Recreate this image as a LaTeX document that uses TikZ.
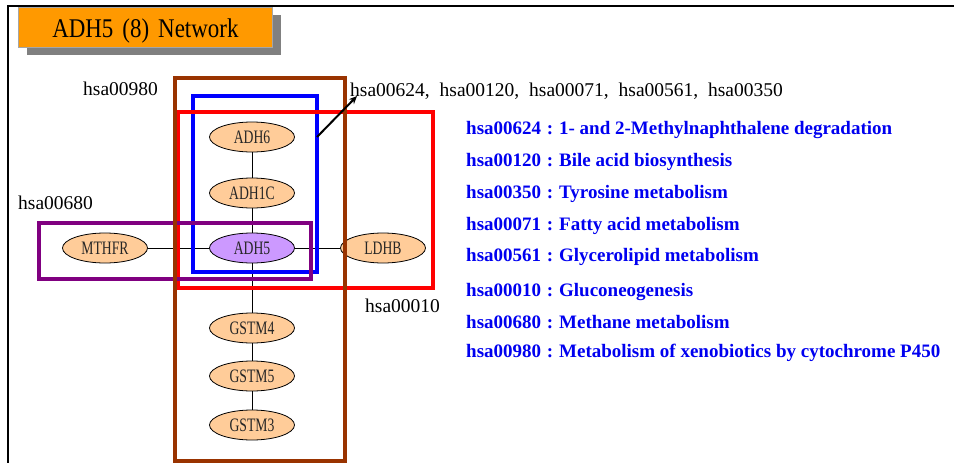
\documentclass[tikz,border=0pt]{standalone}
\usepackage{fontspec}
\setmainfont{Liberation Serif}
\newfontfamily\nodefont[FakeStretch=0.72]{Liberation Serif}
\newfontfamily\titlefont[FakeStretch=0.85]{Liberation Serif}
\newfontfamily\legendfont{Liberation Serif}
\usetikzlibrary{shapes.geometric,arrows.meta}
\definecolor{peach}{HTML}{FFCC99}
\definecolor{lilac}{HTML}{CC99FF}
\definecolor{boxbrown}{HTML}{993300}
\definecolor{boxpurple}{HTML}{800080}
\definecolor{titleorange}{HTML}{FF9900}
\definecolor{legendblue}{HTML}{0000F0}
\tikzset{
  gene/.style={ellipse, draw=black, line width=0.8pt, fill=peach,
    minimum width=85pt, minimum height=30pt, inner sep=0pt,
    font=\nodefont\fontsize{19}{19}\selectfont, text=black!85},
  seed/.style={gene, fill=lilac},
  link/.style={line width=1pt, black},
  pathbox/.style={line width=4pt},
  tag/.style={font=\fontsize{19.5}{20}\selectfont, inner sep=0pt, anchor=west},
  legend/.style={font=\legendfont\bfseries\fontsize{19}{20}\selectfont,
    text=legendblue, inner sep=0pt, anchor=west},
}
\newcommand{\fwcolon}{\makebox[18pt]{:}}
\begin{document}
\begin{tikzpicture}[x=1pt,y=-1pt]
\useasboundingbox (0,0) rectangle (954,463);
\fill[white] (0,0) rectangle (954,463);
% frame
\draw[line width=2pt] (8,463) -- (8,6) -- (954,6);
% title
\fill[gray] (27,15) rectangle (281,55);
\node[draw=gray!70, line width=0.8pt, fill=titleorange, minimum width=254pt,
  minimum height=40pt, inner sep=0pt, anchor=north west] (title) at (18,7) {};
\node[font=\titlefont\fontsize{27}{27}\selectfont, inner sep=0pt] (titletext)
  at ([yshift=-4pt]title.center) {ADH5\hspace{9pt}(8)\hspace{9pt}Network};
% genes
\node[gene] (adh6) at (252,137) {ADH6};
\node[gene] (adh1c) at (252,193) {ADH1C};
\node[seed] (adh5) at (252,248) {ADH5};
\node[gene] (mthfr) at (105,248) {MTHFR};
\node[gene] (ldhb) at (383,248) {LDHB};
\node[gene] (gstm4) at (252,328) {GSTM4};
\node[gene] (gstm5) at (252,376) {GSTM5};
\node[gene] (gstm3) at (252,425) {GSTM3};
\draw[link] (adh6) -- (adh1c);
\draw[link] (adh1c) -- (adh5);
\draw[link] (adh5) -- (gstm4);
\draw[link] (gstm4) -- (gstm5);
\draw[link] (gstm5) -- (gstm3);
\draw[link] (mthfr) -- (adh5);
\draw[link] (adh5) -- (ldhb);
% pathway boxes
\draw[pathbox, blue] (193,96) rectangle (317,272);
\draw[pathbox, red] (178,112) rectangle (433,288);
\draw[pathbox, boxpurple] (39,223) rectangle (311,279);
\draw[pathbox, boxbrown] (175,78) rectangle (345,461);
% pathway tags
\node[tag] (t980) at (83,89) {hsa00980};
\node[tag] (t680) at (18,203) {hsa00680};
\node[tag] (t010) at (365,306) {hsa00010};
\node[tag] (tmulti) at (350,91)
  {hsa00624,\hspace{5pt} hsa00120,\hspace{5pt} hsa00071,\hspace{5pt} hsa00561,\hspace{5pt} hsa00350};
\coordinate (arrS) at (317,137);
\coordinate (arrE) at (357,96);
\draw[line width=2pt, -{Stealth[length=8pt,width=7pt]}] (arrS) -- (arrE);
% legend
\node[legend] (l1) at (466,130) {hsa00624\fwcolon 1- and 2-Methylnaphthalene degradation};
\node[legend] (l2) at (466,162) {hsa00120\fwcolon Bile acid biosynthesis};
\node[legend] (l3) at (466,194) {hsa00350\fwcolon Tyrosine metabolism};
\node[legend] (l4) at (466,226) {hsa00071\fwcolon Fatty acid metabolism};
\node[legend] (l5) at (466,257) {hsa00561\fwcolon Glycerolipid metabolism};
\node[legend] (l6) at (466,292) {hsa00010\fwcolon Gluconeogenesis};
\node[legend] (l7) at (466,322) {hsa00680\fwcolon Methane metabolism};
\node[legend] (l8) at (466,353) {hsa00980\fwcolon Metabolism of xenobiotics by cytochrome P450};
\end{tikzpicture}
\end{document}
